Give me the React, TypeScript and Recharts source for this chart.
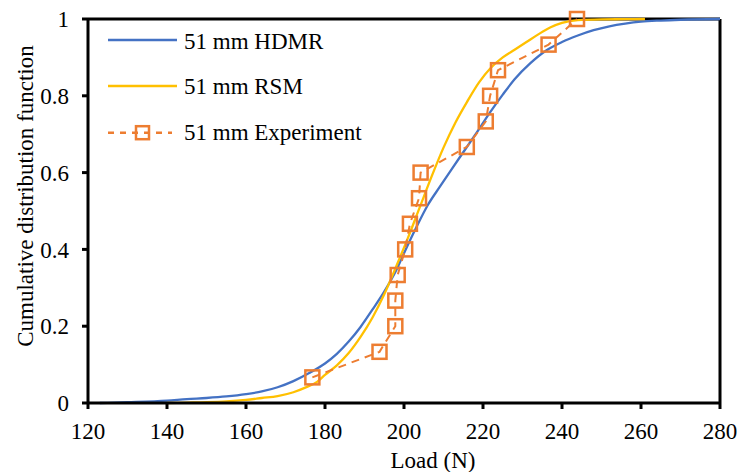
import React from 'react';
import { LineChart, Line, XAxis, YAxis, ReferenceLine, Legend, Label } from 'recharts';

const FONT = "'Liberation Serif', 'Times New Roman', serif";
const BLUE = '#4472C4';
const YELLOW = '#FFC000';
const ORANGE = '#ED7D31';

const seriesNames = ['51 mm HDMR', '51 mm RSM', '51 mm Experiment'];
const xTicks = [120, 140, 160, 180, 200, 220, 240, 260, 280];
const yTicks = [0, 0.2, 0.4, 0.6, 0.8, 1];

const hdmrLoad = [123, 130, 140, 145, 150, 155, 160, 164, 168, 172, 176, 180, 183, 186, 189, 192, 195, 198, 200, 203, 206, 209, 212, 215, 218, 222, 225, 228, 232, 236, 240, 244, 248, 252, 256, 260, 265, 270, 280];
const hdmrCdf = [0, 0.002, 0.006, 0.01, 0.013, 0.017, 0.023, 0.03, 0.041, 0.057, 0.078, 0.103, 0.128, 0.16, 0.198, 0.243, 0.29, 0.345, 0.39, 0.455, 0.515, 0.562, 0.608, 0.653, 0.698, 0.76, 0.803, 0.843, 0.885, 0.918, 0.94, 0.957, 0.971, 0.981, 0.988, 0.993, 0.996, 0.998, 1.0];

const rsmLoad = [140, 145, 150, 155, 160, 164, 168, 172, 175, 178, 180, 183, 186, 189, 192, 195, 198, 201, 204, 207, 210, 213, 216, 219, 222, 225, 228, 231, 234, 237, 240, 244, 250, 256, 261];
const rsmCdf = [0, 0.001, 0.002, 0.004, 0.008, 0.013, 0.018, 0.028, 0.04, 0.055, 0.073, 0.098, 0.13, 0.172, 0.222, 0.283, 0.355, 0.43, 0.51, 0.59, 0.665, 0.73, 0.785, 0.835, 0.873, 0.9, 0.92, 0.94, 0.96, 0.978, 0.99, 0.997, 0.999, 0.9995, 1.0];

const expLoad = [176.8, 193.8, 197.8, 197.8, 198.4, 200.3, 201.5, 203.8, 204.2, 215.9, 220.7, 221.8, 223.8, 236.6, 243.8];
const expCdf = [0.0667, 0.1333, 0.2, 0.2667, 0.3333, 0.4, 0.4667, 0.5333, 0.6, 0.6667, 0.7333, 0.8, 0.8667, 0.9333, 1.0];

const hdmrData = hdmrLoad.map((x, i) => ({ x, y: hdmrCdf[i] }));
const rsmData = rsmLoad.map((x, i) => ({ x, y: rsmCdf[i] }));
const expData = expLoad.map((x, i) => ({ x, y: expCdf[i] }));

const SquareDot = (props: any) => {
  const { cx, cy, index } = props;
  if (cx == null || cy == null) return <g key={`d${index}`} />;
  return (
    <rect
      key={`d${index}`}
      x={cx - 7}
      y={cy - 7}
      width={14}
      height={14}
      fill="none"
      stroke={ORANGE}
      strokeWidth={2.5}
    />
  );
};

const LegendContent = () => (
  <svg width={400} height={160} style={{ display: 'block' }}>
    <line x1={108} y1={40} x2={177} y2={40} stroke={BLUE} strokeWidth={2.5} />
    <text x={184} y={48.5} fontFamily={FONT} fontSize={23} fill="#000">{seriesNames[0]}</text>
    <line x1={108} y1={86} x2={177} y2={86} stroke={YELLOW} strokeWidth={2.5} />
    <text x={184} y={93.5} fontFamily={FONT} fontSize={23} fill="#000">{seriesNames[1]}</text>
    <line x1={108} y1={132.7} x2={172} y2={132.7} stroke={ORANGE} strokeWidth={2.5} strokeDasharray="6 6" />
    <rect x={136} y={126.2} width={13} height={13} fill="none" stroke={ORANGE} strokeWidth={2.5} />
    <text x={184} y={139.5} fontFamily={FONT} fontSize={23} fill="#000">{seriesNames[2]}</text>
  </svg>
);

const tickStyle = { fontFamily: FONT, fontSize: 23, fill: '#000' };

export default function App() {
  return (
    <div style={{ position: 'absolute', left: 0, top: 0, width: 739, height: 472, background: '#fff', fontFamily: FONT }}>
      <LineChart width={739} height={472} margin={{ top: 19, right: 19, bottom: 0, left: 0 }}>
        <XAxis
          type="number"
          dataKey="x"
          domain={[120, 280]}
          ticks={xTicks}
          allowDataOverflow
          height={69}
          tick={tickStyle}
          tickSize={6}
          tickMargin={14}
          axisLine={{ stroke: '#000', strokeWidth: 3 }}
          tickLine={{ stroke: '#000', strokeWidth: 3 }}
          interval={0}
        >
          <Label
            content={() => (
              <text x={433} y={468} textAnchor="middle" fontFamily={FONT} fontSize={23} fill="#000">
                Load (N)
              </text>
            )}
          />
        </XAxis>
        <YAxis
          type="number"
          dataKey="y"
          domain={[0, 1]}
          ticks={yTicks}
          width={88}
          tick={tickStyle}
          tickSize={6}
          tickMargin={13}
          axisLine={{ stroke: '#000', strokeWidth: 3 }}
          tickLine={{ stroke: '#000', strokeWidth: 3 }}
          tickFormatter={(v: number) => (v === 0 ? '0' : v === 1 ? '1' : v.toFixed(1))}
          interval={0}
        >
          <Label
            content={() => (
              <text
                x={33}
                y={196}
                transform="rotate(-90, 33, 196)"
                textAnchor="middle"
                fontFamily={FONT}
                fontSize={23}
                fill="#000"
              >
                Cumulative distribution function
              </text>
            )}
          />
        </YAxis>
        <ReferenceLine y={1} stroke="#000" strokeWidth={3} />
        <ReferenceLine x={280} stroke="#000" strokeWidth={3} />
        <Legend
          layout="vertical"
          align="center"
          verticalAlign="middle"
          content={LegendContent}
          wrapperStyle={{ left: 0, top: 0, width: 400, height: 160 }}
        />
        <Line
          data={hdmrData}
          dataKey="y"
          name={seriesNames[0]}
          type="monotone"
          stroke={BLUE}
          strokeWidth={2.3}
          dot={false}
          isAnimationActive={false}
        />
        <Line
          data={rsmData}
          dataKey="y"
          name={seriesNames[1]}
          type="monotone"
          stroke={YELLOW}
          strokeWidth={2.3}
          dot={false}
          isAnimationActive={false}
        />
        <Line
          data={expData}
          dataKey="y"
          name={seriesNames[2]}
          type="linear"
          stroke={ORANGE}
          strokeWidth={2}
          strokeDasharray="8 6"
          dot={SquareDot}
          isAnimationActive={false}
        />
      </LineChart>
    </div>
  );
}
